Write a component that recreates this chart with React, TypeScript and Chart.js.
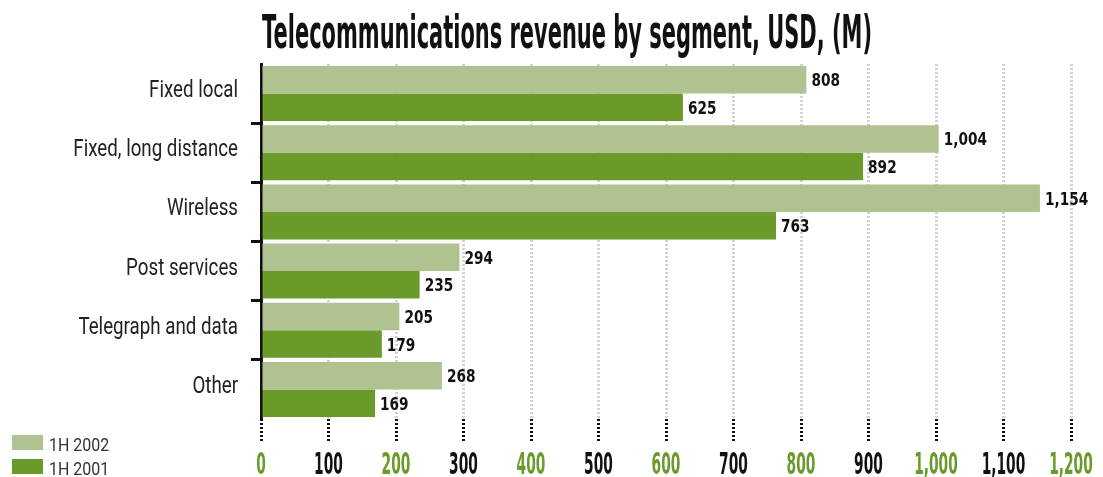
import React, { useEffect, useRef } from "react";
import { Chart, registerables } from "chart.js";

Chart.register(...registerables);

const titleText = "Telecommunications revenue by segment, USD, (M)";
const categories = ["Fixed local", "Fixed, long distance", "Wireless", "Post services", "Telegraph and data", "Other"];
const seriesLabels = ["1H 2002", "1H 2001"];
const values2002 = [808, 1004, 1154, 294, 205, 268];
const values2001 = [625, 892, 763, 235, 179, 169];
const seriesColors = ["#b0c28f", "#6a9a2a"];
const axisMin = 0;
const axisMax = 1200;
const axisStep = 100;

const GREEN = "#6a9a2a";
const INK = "#111111";

function drawScaled(
  ctx: CanvasRenderingContext2D,
  text: string,
  x: number,
  y: number,
  font: string,
  scaleX: number,
  align: CanvasTextAlign,
  color: string
) {
  ctx.save();
  ctx.font = font;
  ctx.fillStyle = color;
  ctx.textBaseline = "alphabetic";
  ctx.textAlign = align;
  ctx.translate(x, y);
  ctx.scale(scaleX, 1);
  ctx.fillText(text, 0, 0);
  ctx.restore();
}

const overlayPlugin = {
  id: "overlay",
  afterDraw(chart: any) {
    const ctx: CanvasRenderingContext2D = chart.ctx;
    const xs = chart.scales.x;
    const ys = chart.scales.y;

    // title
    const titleFont = "bold 47px 'DejaVu Sans', sans-serif";
    ctx.save();
    ctx.font = titleFont;
    const tw = ctx.measureText(titleText).width;
    ctx.restore();
    drawScaled(ctx, titleText, 567, 48, titleFont, 610 / tw, "center", INK);

    // category labels
    const labels: string[] = ys.getLabels();
    labels.forEach((lab, i) => {
      const y = ys.getPixelForValue(i);
      drawScaled(ctx, lab, 238, y + 3.5, "24px Roboto, sans-serif", 0.78, "right", "#222222");
    });

    // x tick labels
    xs.ticks.forEach((t: any, i: number) => {
      const x = xs.getPixelForValue(t.value);
      const txt = Number(t.value).toLocaleString("en-US");
      drawScaled(ctx, txt, x, 474, "bold 30px 'DejaVu Sans', sans-serif", 0.46, "center", i % 2 === 0 ? GREEN : INK);
    });

    // data labels
    chart.data.datasets.forEach((ds: any, d: number) => {
      const meta = chart.getDatasetMeta(d);
      meta.data.forEach((el: any, i: number) => {
        const txt = Number(ds.data[i]).toLocaleString("en-US");
        drawScaled(ctx, txt, el.x + 5, el.y + 6.5, "bold 18px 'DejaVu Sans', sans-serif", 0.76, "left", INK);
      });
    });

    // legend
    chart.data.datasets.forEach((ds: any, d: number) => {
      const top = 435 + d * 24;
      ctx.save();
      ctx.fillStyle = ds.backgroundColor;
      ctx.fillRect(12, top, 31, 15);
      ctx.restore();
      drawScaled(ctx, ds.label, 49, top + 16, "19px Roboto, sans-serif", 0.84, "left", "#333333");
    });
  },
};

export default function App() {
  const ref = useRef<HTMLCanvasElement | null>(null);

  useEffect(() => {
    document.body.style.margin = "0";
    const canvas = ref.current;
    if (!canvas) return;
    const chart = new Chart(canvas, {
      type: "bar",
      data: {
        labels: categories,
        datasets: [
          { label: seriesLabels[0], data: values2002, backgroundColor: seriesColors[0], borderWidth: 0 },
          { label: seriesLabels[1], data: values2001, backgroundColor: seriesColors[1], borderWidth: 0 },
        ],
      },
      options: {
        indexAxis: "y",
        responsive: false,
        animation: false,
        devicePixelRatio: 1,
        layout: { padding: { top: 64, right: 32, bottom: 0, left: 0 } },
        datasets: { bar: { barPercentage: 1.0, categoryPercentage: 0.93 } },
        plugins: {
          legend: { display: false },
          title: { display: false },
          tooltip: { enabled: false },
        },
        scales: {
          x: {
            type: "linear",
            min: axisMin,
            max: axisMax,
            ticks: { stepSize: axisStep, display: false },
            border: { display: false, dash: [2, 2] },
            grid: {
              color: "#d2d2d2",
              lineWidth: 3,
              drawTicks: true,
              tickLength: 24,
              tickColor: INK,
              tickWidth: 3,
              tickBorderDash: [2, 2],
            } as any,
            afterFit: (s: any) => {
              s.height = 58;
            },
          },
          y: {
            type: "category",
            z: 1,
            ticks: { display: false },
            border: { display: true, color: INK, width: 3 },
            grid: {
              offset: true,
              drawOnChartArea: false,
              drawTicks: true,
              tickLength: 10,
              tickWidth: 3,
              tickColor: (c: any) => (c.type !== "tick" || c.index === 0 ? "rgba(0,0,0,0)" : INK),
            },
            afterFit: (s: any) => {
              s.width = 261;
            },
          },
        },
      } as any,
      plugins: [overlayPlugin],
    });
    return () => chart.destroy();
  }, []);

  return (
    <div style={{ position: "fixed", left: 0, top: 0, width: 1103, height: 477, background: "#ffffff" }}>
      <canvas ref={ref} width={1103} height={477} />
    </div>
  );
}
